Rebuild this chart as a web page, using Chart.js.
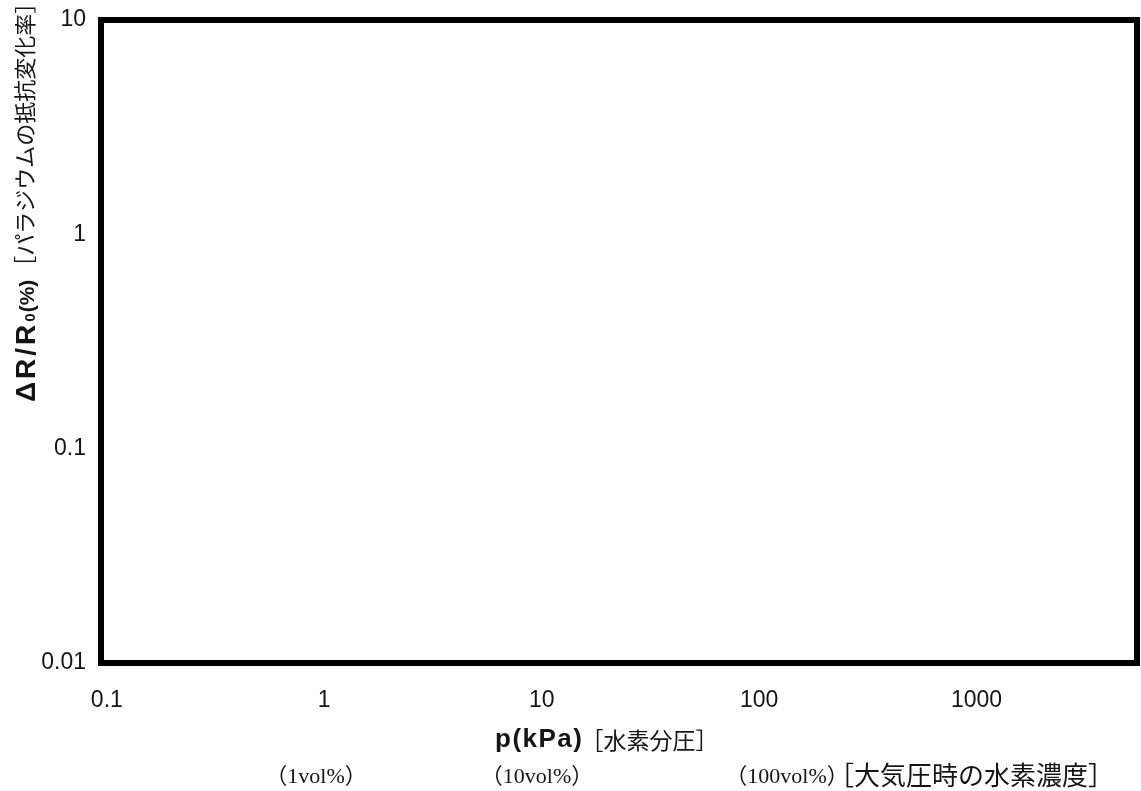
<!DOCTYPE html>
<html>
<head>
<meta charset="utf-8">
<script src="https://cdn.jsdelivr.net/npm/chart.js@4/dist/chart.umd.min.js"></script>
<style>
  html, body { margin: 0; padding: 0; background: #fff; }
  #wrap { width: 1141px; height: 791px; }
</style>
</head>
<body>
<div id="wrap"><canvas id="myChart"></canvas></div>
<script>
// axes (log scales)
const xTicks = [0.1, 1, 10, 100, 1000];
const yTicks = [0.01, 0.1, 1, 10];
const xMin = 0.094, xMax = 5470;
const yMin = 0.01, yMax = 10;
// the reference plot is empty: no measured points
const sensorData = [];

const yTitleParts = ['ΔR/R', '0', '(%)', '［パラジウムの抵抗変化率］'];
const xTitleParts = ['p(kPa)', '［水素分圧］'];
const volLabels = ['（1vol%）', '（10vol%）', '（100vol%）'];
const volNote = '［大気圧時の水素濃度］';

const SANS = '"Liberation Sans", Arial, sans-serif';
const CJK = '"Noto Sans CJK JP", sans-serif';
const SERIF = '"Liberation Serif", "Noto Sans CJK JP", serif';
const INK = '#151515';

const extras = {
  id: 'extras',
  afterDraw(chart) {
    const { ctx, chartArea: a } = chart;
    ctx.save();
    // heavy frame round the plot area
    ctx.lineWidth = 6;
    ctx.strokeStyle = '#000';
    ctx.strokeRect(a.left, a.top, a.right - a.left, a.bottom - a.top);

    ctx.fillStyle = INK;
    ctx.textBaseline = 'alphabetic';
    ctx.textAlign = 'left';

    // y title, rotated
    ctx.save();
    ctx.translate(35, 402);
    ctx.rotate(-Math.PI / 2);
    let px = 0;
    ctx.font = 'bold 28px ' + SANS;
    ctx.letterSpacing = '3px';
    ctx.fillText(yTitleParts[0], px, 0);
    px += ctx.measureText(yTitleParts[0]).width;
    ctx.letterSpacing = '0px';
    ctx.font = 'bold 15px ' + SANS;
    ctx.fillText(yTitleParts[1], px, 0);
    px += ctx.measureText(yTitleParts[1]).width + 1;
    ctx.font = 'bold 21px ' + SANS;
    ctx.fillText(yTitleParts[2], px, -1);
    px += ctx.measureText(yTitleParts[2]).width + 2;
    ctx.font = '22px ' + CJK;
    ctx.fillText(yTitleParts[3], px, -2);
    ctx.restore();

    // x title
    ctx.font = 'bold 26px ' + SANS;
    ctx.letterSpacing = '1.5px';
    ctx.fillText(xTitleParts[0], 495, 747);
    let tx = 495 + ctx.measureText(xTitleParts[0]).width;
    ctx.letterSpacing = '0px';
    ctx.font = '23px ' + CJK;
    ctx.fillText(xTitleParts[1], tx - 3, 749);

    // concentration at atmospheric pressure
    const volCenters = [316, 537, 787];
    ctx.textAlign = 'center';
    ctx.font = '22px ' + SERIF;
    volLabels.forEach((t, i) => ctx.fillText(t, volCenters[i], 783));
    ctx.textAlign = 'left';
    ctx.font = '26px ' + CJK;
    ctx.fillText(volNote, 828, 785);
    ctx.restore();
  }
};

const ctx = document.getElementById('myChart');
const myChart = new Chart(ctx, {
  type: 'scatter',
  data: {
    datasets: [{
      label: 'ΔR/R0',
      data: sensorData,
      borderColor: '#000',
      backgroundColor: '#000'
    }]
  },
  options: {
    responsive: true,
    maintainAspectRatio: false,
    animation: false,
    layout: { padding: { top: 20, right: 4, left: 0, bottom: 0 } },
    plugins: { legend: { display: false }, tooltip: { enabled: false } },
    scales: {
      x: {
        type: 'logarithmic',
        min: xMin,
        max: xMax,
        afterBuildTicks: s => { s.ticks = xTicks.map(v => ({ value: v })); },
        afterFit: s => { s.height = 128; s.paddingLeft = 0; s.paddingRight = 0; },
        grid: { display: false, drawTicks: false },
        border: { display: false },
        ticks: {
          autoSkip: false,
          maxRotation: 0,
          padding: 24,
          color: INK,
          font: { family: SANS, size: 23 },
          callback: v => String(v)
        }
      },
      y: {
        type: 'logarithmic',
        min: yMin,
        max: yMax,
        afterBuildTicks: s => { s.ticks = yTicks.map(v => ({ value: v })); },
        afterFit: s => { s.width = 101; s.paddingTop = 0; s.paddingBottom = 0; },
        grid: { display: false, drawTicks: false },
        border: { display: false },
        ticks: {
          autoSkip: false,
          padding: 15,
          color: INK,
          font: { family: SANS, size: 23 },
          callback: v => String(v)
        }
      }
    }
  },
  plugins: [extras]
});
</script>
</body>
</html>
